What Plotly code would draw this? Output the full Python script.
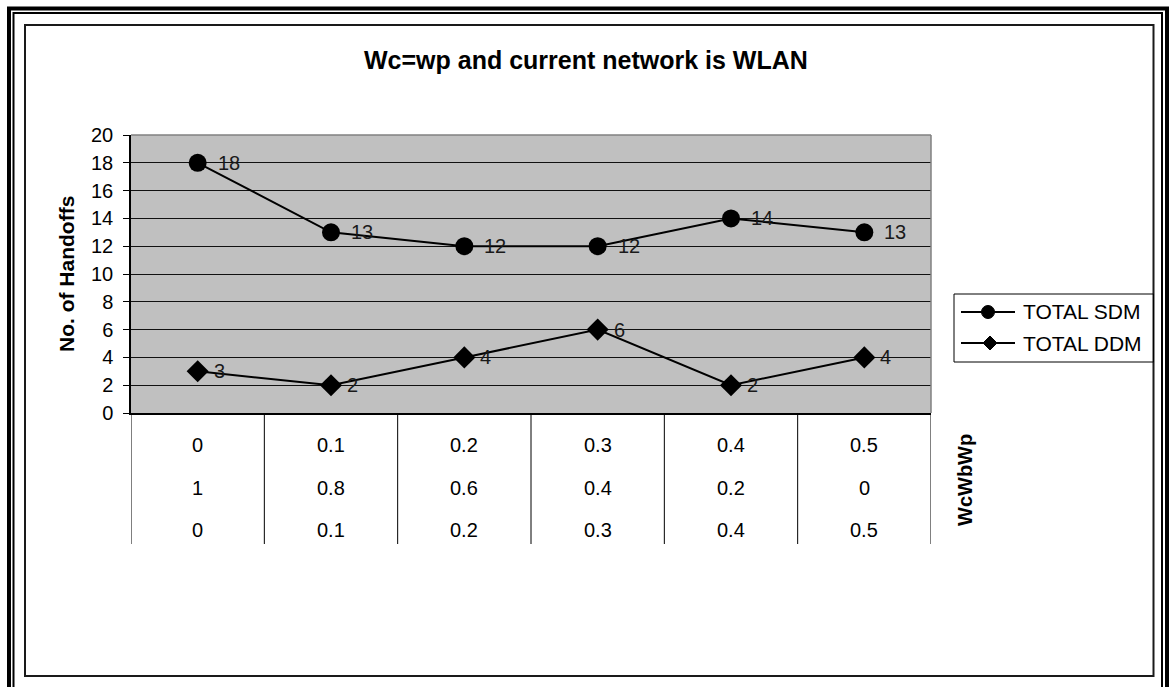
import plotly.graph_objects as go

# Series values
categories = [0, 1, 2, 3, 4, 5]
sdm_values = [18, 13, 12, 12, 14, 13]
ddm_values = [3, 2, 4, 6, 2, 4]

# Weight combinations shown in the table under the x axis (Wc, Wb, Wp)
wc_row = ["0", "0.1", "0.2", "0.3", "0.4", "0.5"]
wb_row = ["1", "0.8", "0.6", "0.4", "0.2", "0"]
wp_row = ["0", "0.1", "0.2", "0.3", "0.4", "0.5"]

y_ticks = list(range(0, 21, 2))

W, H = 1169, 687
FONT = "Arial, Liberation Sans, sans-serif"

# plot rectangle in pixels
PL, PR, PT, PB = 131, 931, 135, 413


def fx(x):
    return x / W


def fy(y):
    return 1 - y / H


fig = go.Figure()

fig.add_trace(go.Scatter(
    x=categories, y=sdm_values, mode="lines+markers", name="TOTAL SDM",
    line=dict(color="black", width=2),
    marker=dict(symbol="circle", size=18, color="black"),
    cliponaxis=False, showlegend=False,
))
fig.add_trace(go.Scatter(
    x=categories, y=ddm_values, mode="lines+markers", name="TOTAL DDM",
    line=dict(color="black", width=2),
    marker=dict(symbol="diamond", size=17, color="black"),
    cliponaxis=False, showlegend=False,
))

annotations = []

# value labels beside each point
for xs, ys, shift in ((categories, sdm_values, 18), (categories, ddm_values, 14)):
    for x, v in zip(xs, ys):
        annotations.append(dict(
            x=x, y=v, xref="x", yref="y", text=str(v), showarrow=False,
            xanchor="left", yanchor="middle", xshift=shift,
            font=dict(family=FONT, size=20, color="#1a1a1a"),
        ))

# table rows below the plot
for row, ypix in ((wc_row, 445), (wb_row, 487.5), (wp_row, 530)):
    for x, t in zip(categories, row):
        annotations.append(dict(
            x=x, y=fy(ypix), xref="x", yref="paper", text=t, showarrow=False,
            xanchor="center", yanchor="middle",
            font=dict(family=FONT, size=20, color="black"),
        ))

# titles
annotations.append(dict(
    x=fx(586), y=fy(60), xref="paper", yref="paper", showarrow=False,
    text="<b>Wc=wp and current network is WLAN</b>",
    xanchor="center", yanchor="middle",
    font=dict(family=FONT, size=25, color="black"),
))
annotations.append(dict(
    x=fx(66), y=fy(274), xref="paper", yref="paper", showarrow=False,
    text="<b>No. of Handoffs</b>", textangle=-90,
    xanchor="center", yanchor="middle",
    font=dict(family=FONT, size=21, color="black"),
))
annotations.append(dict(
    x=fx(965), y=fy(480), xref="paper", yref="paper", showarrow=False,
    text="<b>WcWbWp</b>", textangle=-90,
    xanchor="center", yanchor="middle",
    font=dict(family=FONT, size=20, color="black"),
))

# legend entries
legend_items = [("TOTAL SDM", 312, "circle"), ("TOTAL DDM", 343, "diamond")]
for label, ypix, _ in legend_items:
    annotations.append(dict(
        x=fx(1021), y=fy(ypix), xref="paper", yref="paper", showarrow=False,
        text=label, xanchor="left", yanchor="middle",
        font=dict(family=FONT, size=21, color="black"),
    ))

shapes = []

# outer double frame
shapes.append(dict(type="rect", xref="paper", yref="paper",
                   x0=fx(9), x1=fx(1167), y0=fy(720), y1=fy(8.5),
                   line=dict(color="black", width=4)))
shapes.append(dict(type="rect", xref="paper", yref="paper",
                   x0=fx(13.5), x1=fx(1162), y0=fy(720), y1=fy(13),
                   line=dict(color="black", width=2)))
# inner chart box
shapes.append(dict(type="rect", xref="paper", yref="paper",
                   x0=fx(25), x1=fx(1153.5), y0=fy(676), y1=fy(25),
                   line=dict(color="#1a1a1a", width=2)))

# plot area top/right edges
shapes.append(dict(type="line", xref="paper", yref="paper",
                   x0=fx(PL), x1=fx(PR), y0=fy(PT), y1=fy(PT),
                   line=dict(color="#808080", width=1.5)))
shapes.append(dict(type="line", xref="paper", yref="paper",
                   x0=fx(PR), x1=fx(PR), y0=fy(PT), y1=fy(PB),
                   line=dict(color="#808080", width=1.5)))

# table separators below the axis
for k in range(len(categories) + 1):
    shapes.append(dict(type="line", xref="x", yref="paper",
                       x0=k - 0.5, x1=k - 0.5, y0=fy(PB), y1=fy(544),
                       line=dict(color="black", width=1)))

# legend box, lines and symbols
shapes.append(dict(type="rect", xref="paper", yref="paper",
                   x0=fx(954), x1=fx(1153.5), y0=fy(362), y1=fy(294),
                   line=dict(color="black", width=1)))
for label, ypix, sym in legend_items:
    shapes.append(dict(type="line", xref="paper", yref="paper",
                       x0=fx(961), x1=fx(1015), y0=fy(ypix), y1=fy(ypix),
                       line=dict(color="black", width=2)))
    if sym == "circle":
        r = 6.5
        shapes.append(dict(type="circle", xref="paper", yref="paper",
                           x0=fx(988 - r), x1=fx(988 + r),
                           y0=fy(ypix + r), y1=fy(ypix - r),
                           fillcolor="black", line=dict(color="black", width=1)))
    else:
        cx, d = 990, 7
        path = (f"M {fx(cx - d)} {fy(ypix)} L {fx(cx)} {fy(ypix - d)} "
                f"L {fx(cx + d)} {fy(ypix)} L {fx(cx)} {fy(ypix + d)} Z")
        shapes.append(dict(type="path", xref="paper", yref="paper", path=path,
                           fillcolor="black", line=dict(color="black", width=1)))

fig.update_layout(
    width=W, height=H, autosize=False,
    margin=dict(l=0, r=0, t=0, b=0, autoexpand=False),
    paper_bgcolor="white", plot_bgcolor="#c0c0c0",
    showlegend=False,
    xaxis=dict(
        domain=[fx(PL), fx(PR)], range=[-0.5, 5.5],
        showticklabels=False, showgrid=False, zeroline=False,
        showline=True, linecolor="black", linewidth=1.5, ticks="",
        fixedrange=True,
    ),
    yaxis=dict(
        domain=[fy(PB), fy(PT)], range=[0, 20],
        tickvals=y_ticks, ticktext=[str(v) for v in y_ticks],
        ticks="outside", ticklen=6, tickcolor="black", tickwidth=1,
        showline=True, linecolor="black", linewidth=1.5,
        showgrid=True, gridcolor="#111111", gridwidth=1,
        zeroline=False, ticklabelstandoff=6,
        tickfont=dict(family=FONT, size=20, color="black"),
        fixedrange=True,
    ),
    annotations=annotations,
    shapes=shapes,
)

fig.write_html("out.html")
